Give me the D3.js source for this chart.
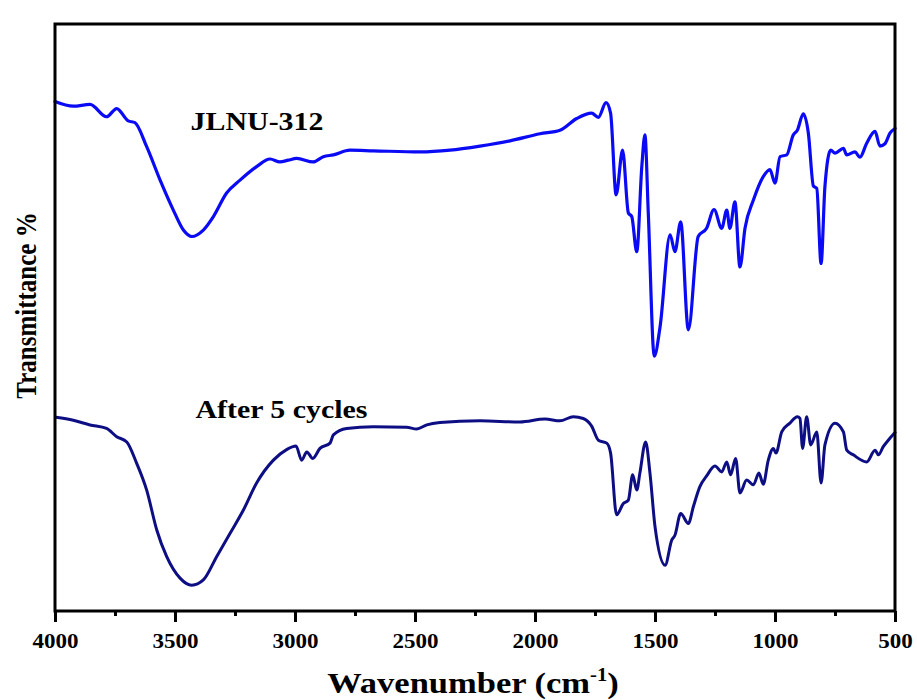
<!DOCTYPE html>
<html>
<head>
<meta charset="utf-8">
<script src="https://cdn.jsdelivr.net/npm/d3@7"></script>
<style>
  html, body { margin: 0; padding: 0; background: #ffffff; }
  svg { display: block; }
  text { font-family: "Liberation Serif", "Times New Roman", serif; font-weight: bold; fill: #000; }
</style>
</head>
<body>
<svg id="chart" width="917" height="700"></svg>
<script>
// FTIR spectra: wavenumber (cm-1) and relative transmittance (a.u.)
const wavenumbersFresh = [4000, 3924, 3854, 3785, 3743, 3695, 3667, 3618, 3562, 3507, 3465, 3430, 3382, 3340, 3285, 3229, 3160, 3104, 3063, 3028, 2993, 2924, 2882, 2840, 2771, 2674, 2479, 2354, 2229, 2104, 1979, 1896, 1826, 1764, 1736, 1704, 1685, 1662, 1635, 1611, 1597, 1576, 1555, 1542, 1528, 1503, 1479, 1437, 1417, 1393, 1361, 1320, 1285, 1254, 1222, 1201, 1188, 1167, 1146, 1125, 1090, 1049, 1021, 1000, 979, 951, 924, 907, 882, 861, 840, 826, 808, 792, 768, 750, 715, 701, 667, 646, 618, 583, 563, 542, 521, 500];
const transmittanceFresh = [86.8, 86.0, 86.3, 84.2, 85.6, 83.5, 83.2, 79.1, 73.4, 68.3, 64.9, 63.8, 64.9, 67.2, 71.2, 73.4, 75.7, 77.0, 76.5, 76.8, 77.1, 76.5, 77.4, 77.7, 78.5, 78.4, 78.2, 78.5, 79.2, 80.1, 81.3, 81.9, 83.9, 84.8, 84.1, 86.6, 84.8, 70.9, 78.5, 67.8, 67.2, 61.2, 75.7, 81.1, 67.8, 43.4, 48.4, 64.1, 61.2, 66.3, 47.9, 63.8, 65.2, 68.4, 65.2, 68.3, 65.2, 69.7, 58.6, 65.2, 70.0, 74.0, 75.2, 72.9, 77.4, 77.7, 81.1, 81.9, 84.7, 81.4, 72.4, 72.0, 59.2, 72.3, 78.5, 78.0, 78.8, 77.7, 78.2, 77.3, 79.7, 81.7, 79.2, 79.6, 81.4, 82.2];

const wavenumbersCycled = [3996, 3924, 3854, 3785, 3743, 3701, 3660, 3618, 3576, 3535, 3479, 3430, 3382, 3326, 3271, 3215, 3160, 3090, 3035, 2996, 2972, 2951, 2926, 2896, 2854, 2840, 2785, 2674, 2535, 2493, 2451, 2396, 2229, 2063, 1958, 1896, 1840, 1799, 1764, 1736, 1701, 1685, 1660, 1632, 1611, 1593, 1576, 1563, 1539, 1521, 1500, 1458, 1430, 1417, 1393, 1361, 1340, 1313, 1285, 1250, 1222, 1201, 1185, 1164, 1146, 1118, 1090, 1067, 1049, 1028, 1007, 996, 972, 938, 907, 896, 885, 868, 851, 826, 808, 792, 750, 715, 701, 674, 618, 583, 569, 549, 528, 500];
const transmittanceCycled = [33.0, 32.5, 31.7, 31.1, 29.7, 28.8, 25.2, 20.6, 13.8, 9.3, 5.6, 4.4, 5.3, 9.3, 13.2, 17.2, 21.8, 25.7, 27.5, 28.1, 25.7, 27.1, 26.0, 27.7, 28.6, 30.0, 31.1, 31.4, 31.3, 31.0, 31.7, 32.1, 32.4, 32.2, 32.7, 32.4, 33.1, 32.8, 31.5, 29.1, 28.6, 26.9, 16.4, 18.3, 18.9, 23.2, 20.6, 23.5, 28.8, 23.5, 14.4, 7.8, 12.1, 12.9, 16.6, 14.9, 17.8, 21.2, 23.0, 24.7, 23.7, 25.4, 23.2, 26.0, 20.1, 22.3, 21.5, 23.5, 21.6, 25.7, 27.7, 26.9, 30.5, 32.0, 33.1, 32.8, 27.7, 33.1, 28.3, 30.5, 21.8, 28.3, 32.0, 30.5, 27.4, 26.6, 25.4, 27.4, 26.6, 28.0, 29.1, 30.4];

const majorTicks = [4000, 3500, 3000, 2500, 2000, 1500, 1000, 500];
const minorTicks = [3750, 3250, 2750, 2250, 1750, 1250, 750];
const seriesNames = ["JLNU-312", "After 5 cycles"];
const seriesColors = ["#0a0af5", "#0e0e84"];
const xTitle = "Wavenumber (cm";
const yTitle = "Transmittance %";

const svg = d3.select("#chart");
const margin = { left: 55, right: 22, top: 24, bottom: 89 };
const W = 917, H = 700;
const stretch = 1.15; // glyphs are drawn slightly wide

const x = d3.scaleLinear().domain([4000, 500]).range([margin.left, W - margin.right]);
const y = d3.scaleLinear().domain([0, 100]).range([H - margin.bottom, margin.top]);

const line = d3.line()
  .x(d => x(d[0]))
  .y(d => y(d[1]))
  .curve(d3.curveMonotoneX);

const series = [
  d3.zip(wavenumbersFresh, transmittanceFresh),
  d3.zip(wavenumbersCycled, transmittanceCycled)
];

svg.append("g").selectAll("path")
  .data(series)
  .join("path")
  .attr("d", line)
  .attr("fill", "none")
  .attr("stroke", (d, i) => seriesColors[i])
  .attr("stroke-width", (d, i) => i === 0 ? 3.2 : 3)
  .attr("stroke-linejoin", "round")
  .attr("stroke-linecap", "round");

// Frame
svg.append("rect")
  .attr("x", x(4000))
  .attr("y", y(100))
  .attr("width", x(500) - x(4000))
  .attr("height", y(0) - y(100))
  .attr("fill", "none")
  .attr("stroke", "#000")
  .attr("stroke-width", 3);

// Bottom axis: major ticks with labels
const axisMajor = svg.append("g")
  .attr("transform", `translate(0,${y(0)})`)
  .call(d3.axisBottom(x).tickValues(majorTicks).tickSize(11).tickSizeOuter(0).tickPadding(4).tickFormat(d3.format("d")));
axisMajor.select(".domain").remove();
axisMajor.selectAll(".tick line").attr("stroke", "#000").attr("stroke-width", 3);
axisMajor.selectAll(".tick text")
  .attr("font-size", 20)
  .attr("dy", null)
  .attr("y", 37)
  .attr("transform", `scale(${stretch},1)`)
  .style("font-family", '"Liberation Serif", "Times New Roman", serif')
  .style("font-weight", "bold");

// Minor ticks
const axisMinor = svg.append("g")
  .attr("transform", `translate(0,${y(0)})`)
  .call(d3.axisBottom(x).tickValues(minorTicks).tickSize(5).tickSizeOuter(0).tickFormat(""));
axisMinor.select(".domain").remove();
axisMinor.selectAll(".tick line").attr("stroke", "#000").attr("stroke-width", 3);

// Series labels
const labelPos = [[3435, 130], [3415, 418]];
labelPos.forEach((p, i) => {
  svg.append("text")
    .attr("transform", `translate(${x(p[0])},${p[1]}) scale(${stretch},1)`)
    .attr("font-size", 26)
    .text(seriesNames[i]);
});

// X axis title with superscript
const xt = svg.append("text")
  .attr("transform", `translate(${(x(4000) + x(500)) / 2 - 2},693) scale(${stretch},1)`)
  .attr("text-anchor", "middle")
  .attr("font-size", 30);
xt.append("tspan").text(xTitle);
xt.append("tspan").attr("font-size", 18).attr("dy", -12).text("-1");
xt.append("tspan").attr("dy", 12).text(")");

// Y axis title
svg.append("text")
  .attr("transform", `translate(36,${(y(0) + y(100)) / 2 - 12}) rotate(-90) scale(1,${stretch})`)
  .attr("text-anchor", "middle")
  .attr("font-size", 25)
  .text(yTitle);
</script>
</body>
</html>
